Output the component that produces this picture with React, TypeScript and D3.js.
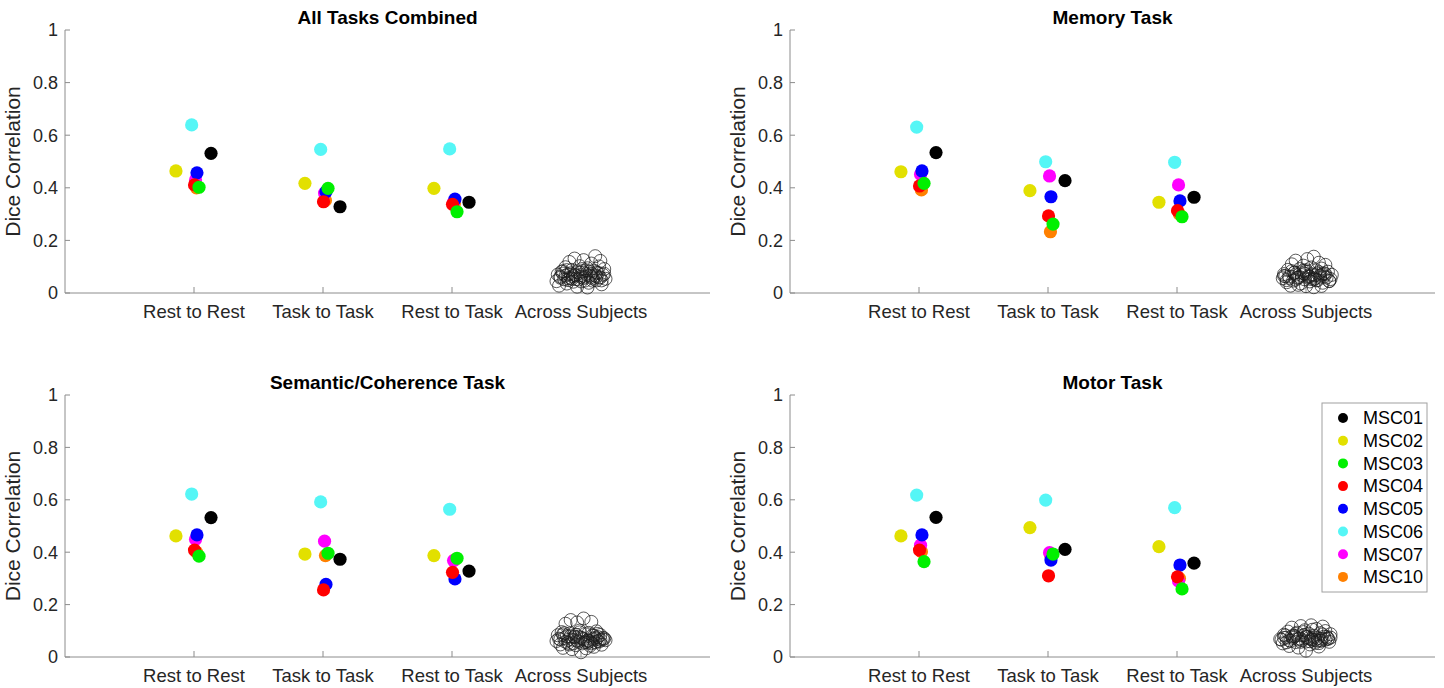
import React from 'react';
import * as d3 from 'd3';

// Subjects, their marker colours and fixed horizontal offsets (in category units)
const subjects = ['MSC01', 'MSC02', 'MSC03', 'MSC04', 'MSC05', 'MSC06', 'MSC07', 'MSC10'];
const subjectColors = ['#000000', '#e2e000', '#00f000', '#ff0000', '#0000ff', '#55f6f6', '#ff00ff', '#ff8000'];
const subjectOffsets = [0.132, -0.14, 0.039, 0.004, 0.023, -0.018, 0.012, 0.019];

const categories = ['Rest to Rest', 'Task to Task', 'Rest to Task', 'Across Subjects'];
const yTicks = [0, 0.2, 0.4, 0.6, 0.8, 1];
const yTickLabels = ['0', '0.2', '0.4', '0.6', '0.8', '1'];

// Within-subject Dice correlations: one row per subject, columns = Rest to Rest, Task to Task, Rest to Task
const allTasksValues = [
  [0.531, 0.328, 0.345],
  [0.464, 0.417, 0.398],
  [0.402, 0.398, 0.309],
  [0.411, 0.347, 0.337],
  [0.457, 0.385, 0.357],
  [0.639, 0.546, 0.548],
  [0.43, 0.38, 0.345],
  [0.4, 0.352, 0.34],
];
const memoryValues = [
  [0.534, 0.427, 0.364],
  [0.461, 0.389, 0.345],
  [0.417, 0.262, 0.29],
  [0.407, 0.293, 0.313],
  [0.464, 0.366, 0.35],
  [0.631, 0.499, 0.497],
  [0.451, 0.445, 0.411],
  [0.392, 0.233, 0.3],
];
const semanticValues = [
  [0.532, 0.373, 0.328],
  [0.462, 0.393, 0.387],
  [0.385, 0.396, 0.377],
  [0.408, 0.256, 0.323],
  [0.466, 0.277, 0.298],
  [0.622, 0.592, 0.564],
  [0.449, 0.442, 0.368],
  [0.4, 0.387, 0.37],
];
const motorValues = [
  [0.533, 0.411, 0.358],
  [0.462, 0.494, 0.421],
  [0.364, 0.393, 0.26],
  [0.408, 0.31, 0.306],
  [0.466, 0.37, 0.351],
  [0.618, 0.599, 0.57],
  [0.427, 0.398, 0.29],
  [0.402, 0.39, 0.3],
];

// Across-subject pairs: horizontal jitter (category units) and Dice values
const allTasksAcrossJitter = [-0.19, -0.17, -0.16, -0.15, -0.13, -0.12, -0.11, -0.1, -0.09, -0.08, -0.07, -0.06, -0.05, -0.04, -0.03, -0.02, -0.01, 0.0, 0.01, 0.02, 0.03, 0.04, 0.05, 0.06, 0.07, 0.08, 0.09, 0.1, 0.11, 0.12, 0.13, 0.14, 0.15, 0.16, 0.17, 0.18, 0.19, -0.14, -0.06, 0.02, 0.08, -0.1, 0.12, 0.05, -0.03, 0.15, -0.18, 0.0,
  -0.16, -0.12, -0.08, -0.04, 0.0, 0.04, 0.08, 0.12, 0.16, -0.14, -0.1, -0.05, -0.01, 0.03, 0.07, 0.11, 0.14, 0.18, -0.07, 0.01, 0.09, -0.11];
const allTasksAcross = [0.045, 0.028, 0.062, 0.081, 0.052, 0.098, 0.036, 0.071, 0.118, 0.058, 0.088, 0.043, 0.131, 0.067, 0.079, 0.051, 0.102, 0.061, 0.083, 0.125, 0.047, 0.072, 0.094, 0.039, 0.066, 0.112, 0.055, 0.085, 0.14, 0.048, 0.076, 0.101, 0.059, 0.033, 0.069, 0.091, 0.054, 0.074, 0.064, 0.057, 0.073, 0.049, 0.063, 0.021, 0.024, 0.122, 0.07, 0.044,
  0.058, 0.066, 0.075, 0.053, 0.068, 0.086, 0.061, 0.079, 0.048, 0.083, 0.056, 0.069, 0.077, 0.062, 0.081, 0.067, 0.059, 0.073, 0.054, 0.091, 0.047, 0.087];

const memoryAcrossJitter = [-0.18, -0.17, -0.15, -0.14, -0.13, -0.11, -0.1, -0.09, -0.08, -0.07, -0.05, -0.04, -0.03, -0.02, -0.01, 0.0, 0.01, 0.02, 0.03, 0.04, 0.05, 0.06, 0.07, 0.08, 0.09, 0.1, 0.11, 0.12, 0.13, 0.14, 0.15, 0.16, 0.17, 0.19, 0.2, -0.12, -0.06, 0.0, 0.06, 0.12, -0.16, 0.18, -0.02, 0.09, -0.08, 0.03,
  -0.17, -0.13, -0.09, -0.05, -0.01, 0.03, 0.07, 0.11, 0.15, -0.15, -0.11, -0.06, -0.02, 0.02, 0.06, 0.1, 0.14, 0.18, -0.08, 0.0, 0.08, 0.13];
const memoryAcross = [0.056, 0.072, 0.041, 0.088, 0.063, 0.109, 0.047, 0.077, 0.123, 0.058, 0.091, 0.036, 0.068, 0.104, 0.052, 0.082, 0.129, 0.061, 0.044, 0.097, 0.071, 0.138, 0.055, 0.086, 0.049, 0.115, 0.066, 0.093, 0.039, 0.075, 0.107, 0.059, 0.081, 0.053, 0.069, 0.028, 0.031, 0.026, 0.022, 0.027, 0.064, 0.046, 0.084, 0.074, 0.051, 0.062,
  0.065, 0.057, 0.078, 0.061, 0.073, 0.054, 0.067, 0.059, 0.072, 0.049, 0.083, 0.058, 0.076, 0.066, 0.052, 0.079, 0.063, 0.045, 0.07, 0.087, 0.048, 0.071];

const semanticAcrossJitter = [-0.19, -0.18, -0.16, -0.15, -0.13, -0.12, -0.1, -0.09, -0.08, -0.06, -0.05, -0.04, -0.03, -0.02, -0.01, 0.0, 0.01, 0.02, 0.03, 0.05, 0.06, 0.07, 0.08, 0.09, 0.1, 0.11, 0.12, 0.13, 0.14, 0.15, 0.16, 0.18, 0.19, -0.14, -0.07, 0.0, 0.04, 0.1, -0.11, 0.17, -0.01, 0.08, -0.17, 0.13, 0.06, -0.05,
  -0.16, -0.12, -0.08, -0.03, 0.01, 0.05, 0.09, 0.13, 0.17, -0.14, -0.1, -0.06, -0.02, 0.02, 0.07, 0.11, 0.15, -0.09, -0.04, 0.03, 0.12, -0.13];
const semanticAcross = [0.061, 0.083, 0.048, 0.095, 0.072, 0.127, 0.054, 0.089, 0.141, 0.066, 0.078, 0.045, 0.132, 0.058, 0.101, 0.074, 0.052, 0.147, 0.087, 0.063, 0.092, 0.043, 0.134, 0.069, 0.081, 0.056, 0.098, 0.076, 0.059, 0.084, 0.047, 0.071, 0.064, 0.035, 0.03, 0.018, 0.033, 0.039, 0.079, 0.067, 0.094, 0.052, 0.07, 0.088, 0.062, 0.075,
  0.067, 0.058, 0.079, 0.063, 0.071, 0.055, 0.082, 0.061, 0.073, 0.086, 0.065, 0.052, 0.077, 0.068, 0.059, 0.074, 0.066, 0.048, 0.085, 0.056, 0.069, 0.091];

const motorAcrossJitter = [-0.2, -0.18, -0.17, -0.15, -0.14, -0.12, -0.11, -0.09, -0.08, -0.07, -0.05, -0.04, -0.03, -0.02, -0.01, 0.0, 0.01, 0.02, 0.04, 0.05, 0.06, 0.07, 0.08, 0.09, 0.11, 0.12, 0.13, 0.14, 0.15, 0.17, 0.18, 0.19, -0.13, -0.06, 0.0, 0.03, 0.1, -0.1, 0.16, -0.02, 0.07, -0.16, 0.12, 0.05,
  -0.17, -0.13, -0.09, -0.04, 0.0, 0.04, 0.09, 0.13, 0.17, -0.15, -0.11, -0.06, -0.01, 0.03, 0.06, 0.1, 0.15, -0.08, 0.02, 0.11, -0.19, 0.19];
const motorAcross = [0.068, 0.052, 0.085, 0.074, 0.097, 0.061, 0.112, 0.079, 0.057, 0.093, 0.071, 0.118, 0.064, 0.083, 0.102, 0.059, 0.076, 0.089, 0.121, 0.066, 0.081, 0.054, 0.107, 0.072, 0.091, 0.063, 0.116, 0.078, 0.099, 0.069, 0.058, 0.087, 0.042, 0.036, 0.024, 0.048, 0.04, 0.073, 0.077, 0.095, 0.065, 0.082, 0.07, 0.104,
  0.073, 0.064, 0.081, 0.058, 0.077, 0.069, 0.062, 0.086, 0.071, 0.056, 0.079, 0.067, 0.084, 0.06, 0.075, 0.053, 0.066, 0.088, 0.071, 0.062, 0.066, 0.074];

const panelTitles = ['All Tasks Combined', 'Memory Task', 'Semantic/Coherence Task', 'Motor Task'];

type PanelSpec = {
  title: string;
  values: number[][];
  acrossJitter: number[];
  across: number[];
  left: number;
  right: number;
  top: number;
  bottom: number;
};

const FONT = "'Liberation Sans', Arial, Helvetica, sans-serif";
const AXIS_COLOR = '#8c8c8c';
const TEXT_COLOR = '#262626';

function Panel({ spec, legend }: { spec: PanelSpec; legend?: boolean }) {
  const x = d3.scaleLinear().domain([0, 5]).range([spec.left, spec.right]);
  const y = d3.scaleLinear().domain([0, 1]).range([spec.bottom, spec.top]);
  const mid = (spec.left + spec.right) / 2;
  const acrossX = categories.length;

  const drawOrder = d3.range(subjects.length).reverse();

  return (
    <g>
      <text x={mid} y={spec.top - 6} textAnchor="middle" fontFamily={FONT} fontWeight="bold" fontSize={19} fill="#000">
        {spec.title}
      </text>

      {/* axes */}
      <line x1={x(0)} x2={x(5)} y1={y(0)} y2={y(0)} stroke={AXIS_COLOR} strokeWidth={1} />
      <line x1={x(0)} x2={x(0)} y1={y(0)} y2={y(1)} stroke={AXIS_COLOR} strokeWidth={1} />
      {yTicks.map((t, i) => (
        <g key={`y${i}`}>
          <line x1={x(0)} x2={x(0) + 5} y1={y(t)} y2={y(t)} stroke={AXIS_COLOR} strokeWidth={1} />
          <text x={x(0) - 7} y={y(t)} dy="0.35em" textAnchor="end" fontFamily={FONT} fontSize={18} fill={TEXT_COLOR}>
            {yTickLabels[i]}
          </text>
        </g>
      ))}
      {categories.map((c, i) => (
        <g key={`x${i}`}>
          <line x1={x(i + 1)} x2={x(i + 1)} y1={y(0)} y2={y(0) - 6} stroke={AXIS_COLOR} strokeWidth={1} />
          <text x={x(i + 1)} y={y(0) + 25} textAnchor="middle" fontFamily={FONT} fontSize={18.5} fill={TEXT_COLOR}>
            {c}
          </text>
        </g>
      ))}
      <text
        transform={`translate(${spec.left - 45},${(spec.top + spec.bottom) / 2}) rotate(-90)`}
        textAnchor="middle"
        fontFamily={FONT}
        fontSize={21}
        fill={TEXT_COLOR}
      >
        Dice Correlation
      </text>

      {/* across-subject comparisons */}
      {spec.across.map((v, i) => (
        <circle
          key={`a${i}`}
          cx={x(acrossX + spec.acrossJitter[i])}
          cy={y(v)}
          r={6.5}
          fill="none"
          stroke="#1a1a1a"
          strokeWidth={0.9}
          strokeOpacity={0.8}
        />
      ))}

      {/* within-subject comparisons */}
      {drawOrder.map((s) =>
        spec.values[s].map((v, c) => (
          <circle
            key={`s${s}c${c}`}
            cx={x(c + 1 + subjectOffsets[s])}
            cy={y(v)}
            r={6.6}
            fill={subjectColors[s]}
          />
        ))
      )}

      {legend && (
        <g>
          <rect x={spec.right - 113} y={spec.top + 8} width={105} height={189} fill="#fff" stroke="#a0a0a0" strokeWidth={1} />
          {subjects.map((name, i) => (
            <g key={name}>
              <circle cx={spec.right - 92} cy={spec.top + 23 + i * 22.7} r={5} fill={subjectColors[i]} />
              <text x={spec.right - 72} y={spec.top + 23 + i * 22.7} dy="0.35em" fontFamily={FONT} fontSize={18} fill="#000">
                {name}
              </text>
            </g>
          ))}
        </g>
      )}
    </g>
  );
}

export default function App() {
  const panels: PanelSpec[] = [
    { title: panelTitles[0], values: allTasksValues, acrossJitter: allTasksAcrossJitter, across: allTasksAcross, left: 65, right: 710, top: 30, bottom: 293 },
    { title: panelTitles[1], values: memoryValues, acrossJitter: memoryAcrossJitter, across: memoryAcross, left: 790, right: 1435, top: 30, bottom: 293 },
    { title: panelTitles[2], values: semanticValues, acrossJitter: semanticAcrossJitter, across: semanticAcross, left: 65, right: 710, top: 395, bottom: 657 },
    { title: panelTitles[3], values: motorValues, acrossJitter: motorAcrossJitter, across: motorAcross, left: 790, right: 1435, top: 395, bottom: 657 },
  ];
  return (
    <svg
      width={1444}
      height={688}
      style={{ position: 'absolute', left: 0, top: 0, background: '#fff' }}
      xmlns="http://www.w3.org/2000/svg"
    >
      <rect width={1444} height={688} fill="#fff" />
      {panels.map((p, i) => (
        <Panel key={i} spec={p} legend={i === 3} />
      ))}
    </svg>
  );
}
